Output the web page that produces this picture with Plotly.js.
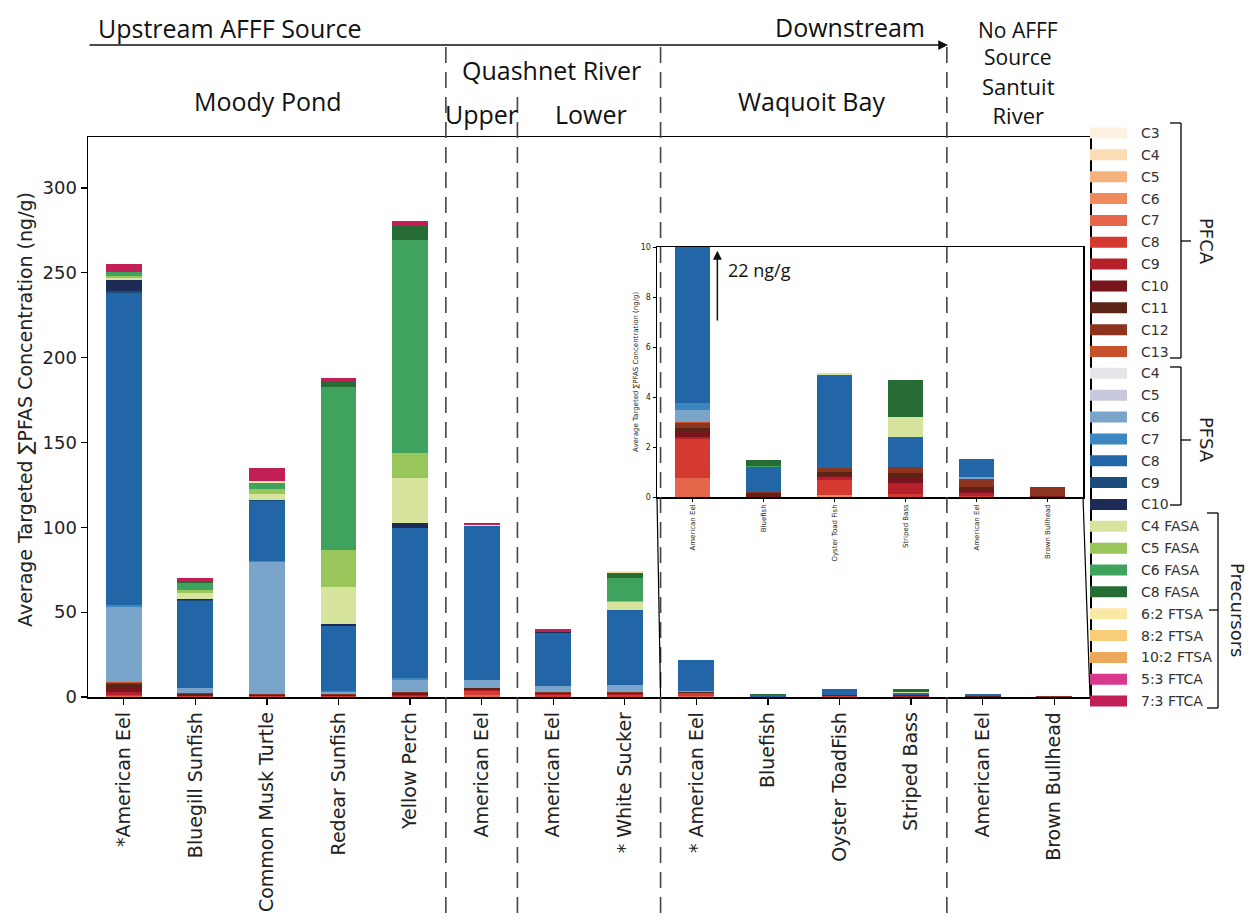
<!DOCTYPE html>
<html><head><meta charset="utf-8">
<script src="https://cdn.plot.ly/plotly-3.0.1.min.js"></script>
<style>body{margin:0;background:#fff}#c{width:1252px;height:920px}</style>
</head><body><div id="c"></div>
<script>
// ---------------- DATA ----------------
const categories = ['*American Eel','Bluegill Sunfish','Common Musk Turtle','Redear Sunfish','Yellow Perch',
  'American Eel','American Eel','* White Sucker','* American Eel','Bluefish','Oyster ToadFish','Striped Bass',
  'American Eel','Brown Bullhead'];
const insetCategories = ['American Eel','Bluefish','Oyster Toad Fish','Striped Bass','American Eel','Brown Bullhead'];
const insetStart = 8;

const legendNames = ['C3','C4','C5','C6','C7','C8','C9','C10','C11','C12','C13',
  'C4','C5','C6','C7','C8','C9','C10',
  'C4 FASA','C5 FASA','C6 FASA','C8 FASA','6:2 FTSA','8:2 FTSA','10:2 FTSA','5:3 FTCA','7:3 FTCA'];

// PFCA
const PFCA_C3  = [0,0,0,0,0,0,0,0, 0,0,0,0,0,0];
const PFCA_C4  = [0,0,0,0,0,0,0,0, 0,0,0,0,0,0];
const PFCA_C5  = [0,0,0,0,0,0,0,0, 0,0,0,0,0,0];
const PFCA_C6  = [0,0,0,0,0,0,0,0, 0,0,0.07,0,0,0];
const PFCA_C7  = [0.3,0,0,0,0,1.0,0,0, 0.77,0,0,0,0,0];
const PFCA_C8  = [1.0,0.3,0.5,0.3,0.5,2.5,1.0,1.2, 1.55,0,0.6,0.13,0.05,0];
const PFCA_C9  = [1.5,0.3,0.2,0.3,0.5,0.8,0.7,0.6, 0.1,0,0.12,0.42,0.1,0];
const PFCA_C10 = [2.5,0.6,0.3,0.4,0.8,0.5,0.7,0.6, 0.2,0.1,0.1,0.2,0.13,0.03];
const PFCA_C11 = [2.2,0.6,0.2,0.3,0.6,0.3,0,0, 0.15,0.06,0.13,0.2,0.13,0];
const PFCA_C12 = [1.0,0.6,0.3,0.2,0.6,0.5,0.6,0.6, 0.2,0.05,0.13,0.25,0.3,0.36];
const PFCA_C13 = [0.3,0,0,0,0,0,0,0, 0.04,0,0,0,0,0];
// PFSA
const PFSA_C4  = [0,0,0,0,0,0,0,0, 0,0,0,0,0,0];
const PFSA_C5  = [0,0,0,0,0,0,0,0, 0,0,0,0,0,0];
const PFSA_C6  = [44,3,78.3,1.5,7,4.7,3.5,4.1, 0.47,0,0,0,0.1,0];
const PFSA_C7  = [1.5,0,0.5,0.5,1.3,0,0,0, 0.27,0,0,0,0,0];
const PFSA_C8  = [184,51.3,35.3,38.3,88.4,90.2,31.2,44.2, 18.3,1.0,3.75,1.2,0.7,0];
const PFSA_C9  = [1,0.6,0.3,0,0,0,0,0, 0,0,0,0,0,0];
const PFSA_C10 = [6.5,0.6,0.4,1.2,2.9,0,0.8,0, 0,0,0,0,0,0];
// Precursors
const C4_FASA  = [1.2,3.5,3.5,21.8,26.5,0,0,4.7, 0,0,0.06,0.8,0,0];
const C5_FASA  = [1,1.5,3,21.8,14.7,0,0,0.8, 0,0,0,0,0,0];
const C6_FASA  = [2.5,4.5,3.5,96,125.5,0,0,13.5, 0,0.05,0,0,0,0];
const C8_FASA  = [0,1,0,3.5,8.2,0,0,3, 0,0.22,0,1.47,0,0];
const FTSA_6_2 = [0,0,1,0,0,0.8,0,1.2, 0,0,0,0,0,0];
const FTSA_8_2 = [0,0,0,0,0,0,0,0, 0,0,0,0,0,0];
const FTSA_10_2= [0,0,0,0,0,0,0,0, 0,0,0,0,0,0];
const FTCA_5_3 = [0,0,0,0,0,0,0,0, 0,0,0,0,0,0];
const FTCA_7_3 = [4.5,1.5,7.7,1.8,2.9,1.5,1.5,0, 0,0,0,0,0,0];

const seriesValues = [PFCA_C3,PFCA_C4,PFCA_C5,PFCA_C6,PFCA_C7,PFCA_C8,PFCA_C9,PFCA_C10,PFCA_C11,PFCA_C12,PFCA_C13,
  PFSA_C4,PFSA_C5,PFSA_C6,PFSA_C7,PFSA_C8,PFSA_C9,PFSA_C10,
  C4_FASA,C5_FASA,C6_FASA,C8_FASA,FTSA_6_2,FTSA_8_2,FTSA_10_2,FTCA_5_3,FTCA_7_3];

// ---------------- STYLE ----------------
const colors = ['#fdf2e2','#fbdcb4','#f5b27c','#ef8a5c','#e5664a','#d43a2f','#b5202a','#78141c','#5b2416','#8c3420','#c8512b',
  '#e5e5e9','#c9c9dd','#7aa4c9','#3d87c0','#2266a8','#1a4c7c','#1e2b56',
  '#d7e49e','#98c65b','#3fa35e','#276b35','#f9e8a6','#f8cd77','#eca85a','#d8388b','#c21f56'];

(function(){
const W = 1252, H = 920;
const px = x => x / W, py = y => 1 - y / H;
const xd = [px(88), px(1090)], yd = [py(697), py(137)];
const x2d = [px(657), px(1083)], y2d = [py(497), py(247)];
const mainX = v => xd[0] + (v + 0.5) / categories.length * (xd[1] - xd[0]);

const xs = categories.map((_, i) => i);
const xs2 = insetCategories.map((_, i) => i);

const traces = [];
seriesValues.forEach((vals, i) => {
  traces.push({type:'bar', x: xs, y: vals, width: 0.5, xaxis:'x', yaxis:'y',
    marker:{color: colors[i], line:{width:0}}, showlegend:false, hoverinfo:'skip'});
  traces.push({type:'bar', x: xs2, y: vals.slice(insetStart), width: 0.5, xaxis:'x2', yaxis:'y2',
    marker:{color: colors[i], line:{width:0}}, showlegend:false, hoverinfo:'skip'});
});

const shapes = [];
const annotations = [];
const seg = (x0,y0,x1,y1) => shapes.push({type:'line', xref:'paper', yref:'paper',
  x0:px(x0), y0:py(y0), x1:px(x1), y1:py(y1), line:{color:'#000', width:1.3}});

// dashed separators
[[4.5,47],[5.5,97],[7.5,47],[11.5,47]].forEach(([v,ytop]) => {
  shapes.push({type:'line', xref:'paper', yref:'paper', x0:mainX(v), x1:mainX(v), y0:py(ytop), y1:0,
    line:{color:'#444', width:1.6, dash:'16px,9px'}});
});
// inset connectors
shapes.push({type:'line', xref:'paper', yref:'paper', x0:x2d[0], y0:y2d[0], x1:mainX(7.5), y1:yd[0], line:{color:'#000', width:1.2}});
shapes.push({type:'line', xref:'paper', yref:'paper', x0:x2d[1], y0:y2d[0], x1:mainX(13.5), y1:yd[0], line:{color:'#000', width:1.2}});

// legend (manual)
const legY0 = 133, legStep = 21.85;
legendNames.forEach((n, i) => {
  const yc = legY0 + i * legStep;
  shapes.push({type:'rect', xref:'paper', yref:'paper', x0:px(1090), x1:px(1127), y0:py(yc+5.5), y1:py(yc-5.5),
    fillcolor: colors[i], line:{width:0}});
  annotations.push({text:n, xref:'paper', yref:'paper', x:px(1139), y:py(yc), xanchor:'left', yanchor:'middle',
    showarrow:false, font:{family:'DejaVu Sans', size:14, color:'#333'}});
});
// brackets
seg(1170,123,1181,123); seg(1181,123,1181,358); seg(1170,358,1181,358); seg(1181,241,1191,241);
seg(1170,367,1181,367); seg(1181,367,1181,505); seg(1170,505,1181,505); seg(1181,440,1191,440);
seg(1207,513,1218,513); seg(1218,513,1218,708); seg(1207,708,1218,708); seg(1209,610,1218,610);
const brk = (t,x,y) => annotations.push({text:t, xref:'paper', yref:'paper', x:px(x), y:py(y), textangle:90,
  showarrow:false, xanchor:'center', yanchor:'middle', font:{family:'DejaVu Sans', size:18, color:'#222'}});
brk('PFCA',1207,241); brk('PFSA',1207,440); brk('Precursors',1238,610);

// top labels
const lab = (t,x,y,anchor='center',size=25) => annotations.push({text:t, xref:'paper', yref:'paper', x:px(x), y:py(y),
  xanchor:anchor, yanchor:'middle', showarrow:false, font:{family:'Open Sans', size:size, color:'#111'}});
lab('Upstream AFFF Source',96,28,'left');
lab('Downstream',850,27);
lab('No AFFF<br>Source',1018,44,'center',21);
lab('Quashnet River',551,70);
lab('Moody Pond',268,101);
lab('Upper',481,114); lab('Lower',591,114);
lab('Waquoit Bay',811,101);
lab('Santuit<br>River',1018,101,'center',22);
// top arrow
annotations.push({text:'', xref:'paper', yref:'paper', x:px(948), y:py(45), ax:88-948, ay:0,
  showarrow:true, arrowhead:2, arrowsize:1.3, arrowwidth:1.5, arrowcolor:'#111', standoff:0});

// y axis titles
annotations.push({text:'Average Targeted ∑PFAS Concentration (ng/g)', xref:'paper', yref:'paper', x:px(25), y:py(410),
  textangle:-90, showarrow:false, xanchor:'center', yanchor:'middle', font:{family:'DejaVu Sans', size:19, color:'#222'}});
annotations.push({text:'Average Targeted ∑PFAS Concentration (ng/g)', xref:'paper', yref:'paper', x:px(636), y:py(372),
  textangle:-90, showarrow:false, xanchor:'center', yanchor:'middle', font:{family:'DejaVu Sans', size:7, color:'#222'}});

// inset 22 ng/g
annotations.push({text:'', xref:'x2', yref:'y2', x:0.35, y:9.85, axref:'x2', ayref:'y2', ax:0.35, ay:7.0,
  showarrow:true, arrowhead:2, arrowsize:1.2, arrowwidth:1.5, arrowcolor:'#111', standoff:0});
annotations.push({text:'22 ng/g', xref:'x2', yref:'y2', x:0.47, y:9.1, xanchor:'left', yanchor:'middle',
  showarrow:false, font:{family:'Open Sans', size:18, color:'#111'}});

const axBase = {showline:true, mirror:true, linecolor:'#000', linewidth:1.5, showgrid:false, zeroline:false,
  ticks:'outside', tickcolor:'#000', automargin:false, fixedrange:true};

const layout = {
  width:W, height:H, autosize:false, margin:{l:0,r:0,t:0,b:0},
  paper_bgcolor:'#fff', plot_bgcolor:'#fff', barmode:'stack', showlegend:false,
  xaxis: Object.assign({}, axBase, {domain:xd, anchor:'y', range:[-0.5,13.5], tickmode:'array', tickvals:xs,
    ticktext:categories, tickangle:-90, ticklen:6, tickwidth:1.2, tickfont:{family:'DejaVu Sans', size:19, color:'#222'}}),
  yaxis: Object.assign({}, axBase, {domain:yd, anchor:'x', range:[0,330], tickmode:'array',
    tickvals:[0,50,100,150,200,250,300], ticklen:6, tickwidth:1.2, tickfont:{family:'DejaVu Sans', size:18, color:'#222'}}),
  xaxis2: Object.assign({}, axBase, {domain:x2d, anchor:'y2', range:[-0.5,5.5], tickmode:'array', tickvals:xs2,
    ticktext:insetCategories, tickangle:-90, ticklen:3, tickwidth:1, tickfont:{family:'DejaVu Sans', size:7, color:'#222'}}),
  yaxis2: Object.assign({}, axBase, {domain:y2d, anchor:'x2', range:[0,10], tickmode:'array',
    tickvals:[0,2,4,6,8,10], ticklen:3, tickwidth:1, tickfont:{family:'DejaVu Sans', size:8, color:'#222'}}),
  shapes, annotations
};

Plotly.newPlot('c', traces, layout, {staticPlot:true, displayModeBar:false});
})();
</script></body></html>
